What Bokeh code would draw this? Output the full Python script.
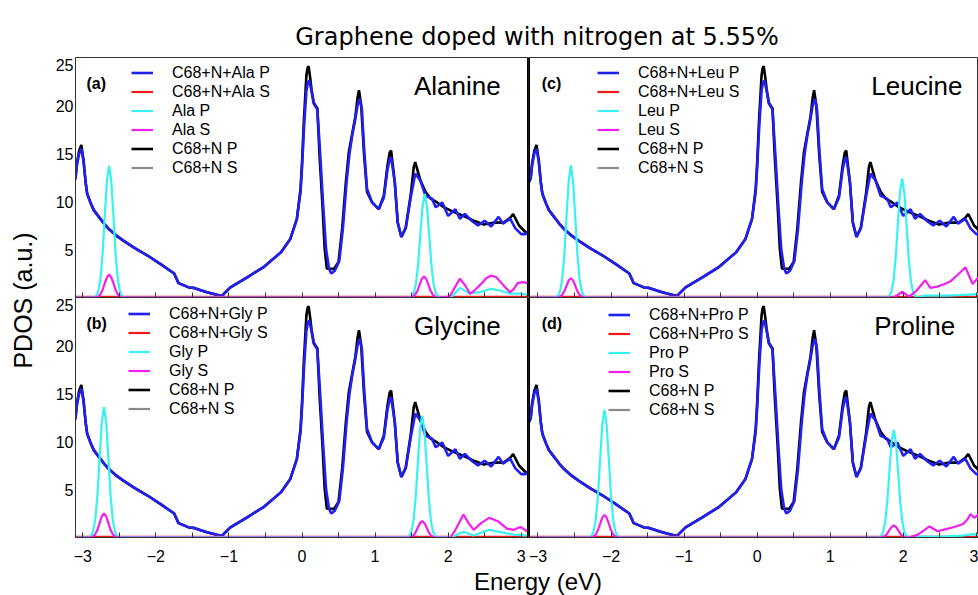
import math
from bokeh.plotting import figure
from bokeh.models import Range1d, FixedTicker, Legend, LegendItem, Span
from bokeh.layouts import column, row
from bokeh.core.properties import value
from bokeh.embed import file_html
from bokeh.resources import INLINE

# ---------------- data ----------------
title_text = "Graphene doped with nitrogen at 5.55%"
x_label = "Energy (eV)"
y_label = "PDOS (a.u.)"

x_ticks = [-3, -2, -1, 0, 1, 2, 3]
x_tick_labels = ["\u22123", "\u22122", "\u22121", "0", "1", "2", "3"]
x_minor_ticks = [-2.5, -1.5, -0.5, 0.5, 1.5, 2.5]
y_tick_pos = [5, 10, 15, 20, 24.2]
y_tick_labels = ["5", "10", "15", "20", "25"]

panel_tags = ["(a)", "(b)", "(c)", "(d)"]
panel_names = ["Alanine", "Glycine", "Leucine", "Proline"]
panel_abbr = ["Ala", "Gly", "Leu", "Pro"]

# C68+N P (black)
c68n_p_x = [-3.13, -3.10, -3.08, -3.05, -3.02, -2.99, -2.96, -2.94, -2.89, -2.85, -2.78, -2.71, -2.64, -2.55,
            -2.44, -2.30, -2.12, -1.94, -1.75, -1.69, -1.55, -1.48, -1.30, -1.10, -0.98, -0.75, -0.52, -0.29,
            -0.16, -0.07, -0.02, 0.00, 0.025, 0.06, 0.075, 0.09, 0.11, 0.13, 0.16, 0.21, 0.24, 0.28, 0.31, 0.34,
            0.44, 0.50, 0.55, 0.60, 0.64, 0.69, 0.73, 0.76, 0.78, 0.81, 0.85, 0.89, 0.96, 1.05, 1.12, 1.17,
            1.20, 1.22, 1.27, 1.31, 1.36, 1.42, 1.49, 1.53, 1.55, 1.62, 1.69, 1.76, 1.85, 1.94, 2.08, 2.21,
            2.35, 2.49, 2.63, 2.76, 2.85, 2.89, 2.97, 3.06, 3.10]
c68n_p_y = [11.9, 12.5, 14.0, 15.3, 15.9, 14.3, 11.9, 10.8, 9.8, 9.1, 8.4, 7.7, 7.1, 6.5,
            5.9, 5.2, 4.4, 3.5, 2.5, 1.5, 1.05, 1.0, 0.55, 0.15, 1.05, 2.1, 3.2, 4.7,
            6.1, 8.2, 11.3, 14.0, 18.3, 23.1, 23.9, 24.1, 23.0, 21.7, 20.3, 19.7, 14.8, 9.6, 5.1, 3.0,
            3.0, 3.7, 7.2, 12.0, 15.1, 17.2, 18.8, 20.8, 21.6, 20.0, 14.8, 11.0, 9.9, 9.2, 10.6, 13.75,
            15.1, 15.3, 12.0, 7.8, 6.3, 7.3, 10.8, 13.6, 14.1, 12.2, 11.0, 10.3, 9.9, 9.4, 8.9, 8.5,
            8.0, 7.6, 7.8, 7.8, 8.3, 8.7, 7.5, 6.8, 6.6]

# C68+N+amino acid P (blue)
c68n_aa_p_x = [-3.13, -3.10, -3.08, -3.05, -3.02, -2.99, -2.96, -2.94, -2.89, -2.85, -2.78, -2.71, -2.64, -2.55,
               -2.44, -2.30, -2.12, -1.94, -1.75, -1.69, -1.55, -1.48, -1.30, -1.10, -0.98, -0.75, -0.52, -0.29,
               -0.16, -0.07, -0.02, 0.00, 0.03, 0.06, 0.08, 0.10, 0.13, 0.16, 0.21, 0.25, 0.29, 0.33, 0.37, 0.40,
               0.45, 0.51, 0.56, 0.61, 0.65, 0.69, 0.73, 0.76, 0.79, 0.82, 0.85, 0.89, 0.96, 1.05, 1.12, 1.17,
               1.20, 1.22, 1.27, 1.31, 1.36, 1.42, 1.49, 1.55, 1.62, 1.69, 1.78, 1.83, 1.92, 2.00, 2.10, 2.16,
               2.23, 2.32, 2.41, 2.50, 2.59, 2.69, 2.75, 2.85, 2.92, 3.00, 3.06, 3.10]
c68n_aa_p_y = [11.9, 12.4, 13.8, 15.0, 15.5, 14.2, 11.9, 10.8, 9.8, 9.1, 8.4, 7.7, 7.1, 6.5,
               5.9, 5.2, 4.4, 3.5, 2.5, 1.5, 1.05, 1.0, 0.55, 0.15, 1.05, 2.1, 3.2, 4.7,
               6.1, 8.2, 11.0, 13.5, 18.0, 21.5, 22.4, 22.6, 21.5, 20.2, 19.6, 14.8, 9.6, 5.0, 3.0, 2.5,
               2.8, 3.8, 7.2, 12.0, 15.0, 17.0, 18.6, 20.0, 20.7, 19.6, 15.5, 11.3, 9.9, 9.2, 10.4, 13.3,
               14.4, 14.6, 12.0, 7.8, 6.3, 7.2, 10.5, 12.9, 12.2, 10.6, 10.3, 9.4, 9.9, 8.5, 9.2, 8.2,
               8.7, 8.0, 7.5, 8.0, 7.4, 8.4, 7.7, 8.2, 7.2, 6.6, 6.6, 7.0]

# S components (near zero)
s_x = [-3.13, 3.10]
c68n_aa_s_y = [0.08, 0.08]
c68n_s_y = [0.05, 0.05]

# Alanine
ala_p_x = [-3.10, -2.85, -2.82, -2.79, -2.76, -2.73, -2.70, -2.67, -2.64, -2.61, -2.58, -2.55, -2.52, -2.49, -2.46, -2.43,
           1.47, 1.50, 1.53, 1.56, 1.59, 1.62, 1.65, 1.68, 1.71, 1.74, 1.77, 1.80, 1.83, 1.86, 1.89,
           2.05, 2.16, 2.30, 2.45, 2.59, 2.72, 2.85, 3.00, 3.10]
ala_p_y = [0.0, 0.0, 0.15, 0.6, 1.85, 4.4, 8.4, 12.1, 13.7, 12.1, 8.4, 4.4, 1.85, 0.6, 0.15, 0.0,
           0.0, 0.12, 0.48, 1.46, 3.5, 6.6, 9.5, 10.8, 9.5, 6.6, 3.5, 1.46, 0.48, 0.12, 0.0,
           0.1, 1.0, 0.4, 0.6, 0.9, 0.7, 0.4, 0.4, 0.3]
ala_s_x = [-3.10, -2.85, -2.82, -2.79, -2.76, -2.73, -2.70, -2.67, -2.64, -2.61, -2.58, -2.55, -2.52, -2.49, -2.46, -2.43,
           1.46, 1.49, 1.52, 1.55, 1.58, 1.61, 1.64, 1.67, 1.70, 1.73, 1.76, 1.79, 1.82, 1.85, 1.88,
           2.02, 2.08, 2.16, 2.23, 2.30, 2.37, 2.45, 2.52, 2.59, 2.66, 2.72, 2.79, 2.85, 2.90, 2.95, 3.02, 3.10]
ala_s_y = [0.0, 0.0, 0.03, 0.11, 0.32, 0.77, 1.46, 2.1, 2.4, 2.1, 1.46, 0.77, 0.32, 0.11, 0.03, 0.0,
           0.0, 0.02, 0.1, 0.3, 0.7, 1.34, 1.94, 2.2, 1.94, 1.34, 0.7, 0.3, 0.1, 0.02, 0.0,
           0.1, 0.9, 1.95, 1.3, 0.4, 0.8, 1.4, 2.0, 2.3, 2.1, 1.6, 1.0, 0.55, 0.9, 1.5, 1.6, 1.5]

# Glycine
gly_p_x = [-3.10, -2.92, -2.89, -2.86, -2.83, -2.80, -2.77, -2.74, -2.71, -2.68, -2.65, -2.62, -2.59, -2.56, -2.53, -2.50,
           1.435, 1.465, 1.495, 1.525, 1.555, 1.585, 1.615, 1.645, 1.675, 1.705, 1.735, 1.765, 1.795, 1.825, 1.855,
           2.05, 2.21, 2.35, 2.56, 2.75, 2.90, 3.10]
gly_p_y = [0.0, 0.03, 0.15, 0.6, 1.84, 4.35, 8.3, 12.0, 13.6, 12.0, 8.3, 4.35, 1.84, 0.6, 0.15, 0.03,
           0.03, 0.14, 0.56, 1.7, 4.1, 7.7, 11.2, 12.7, 11.2, 7.7, 4.1, 1.7, 0.56, 0.14, 0.03,
           0.05, 0.6, 0.2, 0.8, 0.5, 0.3, 0.2]
gly_s_x = [-3.10, -2.92, -2.89, -2.86, -2.83, -2.80, -2.77, -2.74, -2.71, -2.68, -2.65, -2.62, -2.59, -2.56, -2.53, -2.50,
           1.435, 1.465, 1.495, 1.525, 1.555, 1.585, 1.615, 1.645, 1.675, 1.705, 1.735, 1.765, 1.795, 1.825, 1.855,
           2.03, 2.10, 2.21, 2.28, 2.35, 2.45, 2.56, 2.68, 2.81, 2.90, 2.99, 3.07, 3.10]
gly_s_y = [0.0, 0.0, 0.03, 0.11, 0.34, 0.8, 1.5, 2.2, 2.5, 2.2, 1.5, 0.8, 0.34, 0.11, 0.03, 0.0,
           0.0, 0.02, 0.07, 0.23, 0.54, 1.04, 1.5, 1.7, 1.5, 1.04, 0.54, 0.23, 0.07, 0.02, 0.0,
           0.0, 0.8, 2.4, 1.5, 0.8, 1.5, 2.05, 1.7, 0.9, 0.8, 1.1, 0.7, 0.7]

# Leucine
leu_p_x = [-3.13, -2.76, -2.73, -2.70, -2.67, -2.64, -2.61, -2.58, -2.55, -2.52, -2.49, -2.46, -2.43, -2.40, -2.37, -2.34,
           1.775, 1.805, 1.835, 1.865, 1.895, 1.925, 1.955, 1.985, 2.015, 2.045, 2.075, 2.105, 2.135, 2.165, 2.195,
           2.30, 2.60, 2.90, 3.03]
leu_p_y = [0.0, 0.03, 0.15, 0.6, 1.86, 4.4, 8.4, 12.1, 13.75, 12.1, 8.4, 4.4, 1.86, 0.6, 0.15, 0.03,
           0.02, 0.14, 0.55, 1.67, 4.0, 7.6, 10.9, 12.4, 10.9, 7.6, 4.0, 1.67, 0.55, 0.14, 0.02,
           0.2, 0.2, 0.3, 0.35]
leu_s_x = [-3.13, -2.76, -2.73, -2.70, -2.67, -2.64, -2.61, -2.58, -2.55, -2.52, -2.49, -2.46, -2.43, -2.40, -2.37, -2.34,
           1.86, 1.92, 1.985, 2.05, 2.08, 2.18, 2.30, 2.37, 2.45, 2.55, 2.65, 2.75, 2.85, 2.95, 3.03]
leu_s_y = [0.0, 0.0, 0.02, 0.09, 0.27, 0.64, 1.22, 1.76, 2.0, 1.76, 1.22, 0.64, 0.27, 0.09, 0.02, 0.0,
           0.0, 0.25, 0.6, 0.25, 0.1, 0.7, 1.8, 1.0, 1.1, 1.35, 1.7, 2.4, 3.15, 1.4, 2.1]

# Proline
pro_p_x = [-3.13, -2.30, -2.27, -2.24, -2.21, -2.18, -2.15, -2.12, -2.09, -2.06, -2.03, -2.00, -1.97, -1.94, -1.91, -1.88,
           1.66, 1.69, 1.72, 1.75, 1.78, 1.81, 1.84, 1.87, 1.90, 1.93, 1.96, 1.99, 2.02, 2.05, 2.08,
           2.20, 2.50, 2.80, 2.95, 3.03]
pro_p_y = [0.0, 0.03, 0.15, 0.59, 1.8, 4.26, 8.1, 11.7, 13.3, 11.7, 8.1, 4.26, 1.8, 0.59, 0.15, 0.03,
           0.02, 0.12, 0.49, 1.5, 3.6, 6.8, 9.9, 11.2, 9.9, 6.8, 3.6, 1.5, 0.49, 0.12, 0.02,
           0.1, 0.1, 0.2, 0.35, 0.3]
pro_s_x = [-3.13, -2.30, -2.27, -2.24, -2.21, -2.18, -2.15, -2.12, -2.09, -2.06, -2.03, -2.00, -1.97, -1.94, -1.91, -1.88,
           1.66, 1.69, 1.72, 1.75, 1.78, 1.81, 1.84, 1.87, 1.90, 1.93, 1.96, 1.99, 2.02, 2.05, 2.08,
           2.20, 2.36, 2.47, 2.60, 2.72, 2.82, 2.88, 2.92, 2.97, 3.03]
pro_s_y = [0.0, 0.0, 0.03, 0.1, 0.32, 0.75, 1.43, 2.07, 2.35, 2.07, 1.43, 0.75, 0.32, 0.1, 0.03, 0.0,
           0.0, 0.01, 0.06, 0.17, 0.4, 0.76, 1.1, 1.25, 1.1, 0.76, 0.4, 0.17, 0.06, 0.01, 0.0,
           0.3, 1.15, 0.65, 0.9, 1.15, 1.4, 1.9, 2.45, 2.05, 2.4]

aa_p_data = [(ala_p_x, ala_p_y), (gly_p_x, gly_p_y), (leu_p_x, leu_p_y), (pro_p_x, pro_p_y)]
aa_s_data = [(ala_s_x, ala_s_y), (gly_s_x, gly_s_y), (leu_s_x, leu_s_y), (pro_s_x, pro_s_y)]

# ---------------- styling ----------------
FONT = "Liberation Sans"
C_BLUE = "#2020f5"
C_RED = "#f01818"
C_CYAN = "#38f2f2"
C_MAG = "#f020f0"
C_BLACK = "#000000"
C_GRAY = "#8a8a8a"
FRAME = "#333333"

YLAB_W = 48
LEFT_W, RIGHT_W = 480, 450
LEFT_BORDER = 27
TITLE_H = 55
TOP_H, BOT_H = 242, 270
XLAB_H = 28


def text_fig(w, h):
    f = figure(width=w, height=h, x_range=Range1d(0, w), y_range=Range1d(0, h),
               output_backend="svg", toolbar_location=None, min_border=0)
    f.axis.visible = False
    f.grid.visible = False
    f.outline_line_color = None
    return f


def make_panel(i, col, bottom, legend_loc, name_x):
    if col == 0:
        xr = Range1d(-3.1, 3.1)
        w = LEFT_W
    else:
        xr = Range1d(-3.13, 3.03)
        w = RIGHT_W
    h = BOT_H if bottom else TOP_H
    p = figure(width=w, height=h, x_range=xr, y_range=Range1d(0, 25),
               output_backend="svg", toolbar_location=None,
               min_border_left=LEFT_BORDER if col == 0 else 0, min_border_right=0,
               min_border_top=0 if bottom else 2, min_border_bottom=30 if bottom else 0)
    p.grid.visible = False
    p.outline_line_color = FRAME
    p.outline_line_width = 1
    p.background_fill_color = "white"
    p.border_fill_color = "white"

    # curves
    r_black = p.line(c68n_p_x, c68n_p_y, line_color=C_BLACK, line_width=2.6)
    r_blue = p.line(c68n_aa_p_x, c68n_aa_p_y, line_color=C_BLUE, line_width=2.6)
    r_gray = p.line(s_x, c68n_s_y, line_color=C_GRAY, line_width=2.2)
    r_red = p.line(s_x, c68n_aa_s_y, line_color=C_RED, line_width=2.2)
    px, py = aa_p_data[i]
    sx, sy = aa_s_data[i]
    r_cyan = p.line(px, py, line_color=C_CYAN, line_width=2.2)
    r_mag = p.line(sx, sy, line_color=C_MAG, line_width=2.2)

    ab = panel_abbr[i]
    items = [
        LegendItem(label="C68+N+%s P" % ab, renderers=[r_blue]),
        LegendItem(label="C68+N+%s S" % ab, renderers=[r_red]),
        LegendItem(label="%s P" % ab, renderers=[r_cyan]),
        LegendItem(label="%s S" % ab, renderers=[r_mag]),
        LegendItem(label="C68+N P", renderers=[r_black]),
        LegendItem(label="C68+N S", renderers=[r_gray]),
    ]
    leg = Legend(items=items, location=legend_loc, glyph_width=22, glyph_height=19,
                 label_height=19, label_standoff=19, spacing=0, padding=0, margin=0,
                 border_line_alpha=0, background_fill_alpha=0,
                 label_text_font=FONT, label_text_font_size="16px", label_text_color="black")
    p.add_layout(leg)

    # panel tag and name
    p.text(x=[-2.95], y=[22.3], text=[panel_tags[i]], text_font=value(FONT), text_font_style="bold",
           text_font_size="16px", text_align="left", text_baseline="alphabetic", text_color="black")
    p.text(x=[name_x], y=[22.0], text=[panel_names[i]], text_font=value(FONT),
           text_font_size="26px", text_align="right", text_baseline="alphabetic", text_color="black")

    # x axis
    xa = p.xaxis[0]
    xa.ticker = FixedTicker(ticks=x_ticks, minor_ticks=x_minor_ticks)
    xa.major_tick_in = 5
    xa.major_tick_out = 0
    xa.minor_tick_in = 5
    xa.minor_tick_out = 0
    xa.axis_line_color = FRAME
    xa.major_tick_line_color = FRAME
    xa.minor_tick_line_color = FRAME
    xa.major_label_text_font = FONT
    xa.major_label_text_font_size = "16px"
    xa.major_label_text_color = "black"
    xa.major_label_standoff = 12
    if bottom:
        xa.major_label_overrides = dict(zip(x_ticks, x_tick_labels))
    else:
        xa.major_label_overrides = {t: "" for t in x_ticks}
        xa.fixed_location = 0

    # y axis
    ya = p.yaxis[0]
    if col == 0:
        ya.ticker = FixedTicker(ticks=y_tick_pos)
        ya.major_label_overrides = dict(zip(y_tick_pos, y_tick_labels))
        ya.major_tick_in = 0
        ya.major_tick_out = 0
        ya.minor_tick_line_color = None
        ya.major_tick_line_color = None
        ya.axis_line_color = FRAME
        ya.major_label_text_font = FONT
        ya.major_label_text_font_size = "16px"
        ya.major_label_text_color = "black"
        ya.major_label_standoff = 2
        p.add_layout(Span(location=3.1, dimension="height", line_color="black", line_width=3))
    else:
        ya.visible = False
        p.add_layout(Span(location=-3.13, dimension="height", line_color="black", line_width=3))
    return p


tl = make_panel(0, 0, False, (56, 120), 2.72)
bl = make_panel(1, 0, True, (53, 119), 2.72)
tr = make_panel(2, 1, False, (69, 120), 2.81)
br = make_panel(3, 1, True, (80, 118), 2.71)

TOTAL_W = YLAB_W + LEFT_W + RIGHT_W

title_fig = text_fig(TOTAL_W, TITLE_H)
title_fig.text(x=[536.5], y=[18.5], text=[title_text], text_font=value("DejaVu Sans"),
               text_font_size="24px", text_align="center", text_baseline="alphabetic", text_color="black")

ylab_fig = text_fig(YLAB_W, TOP_H + BOT_H)
ylab_fig.text(x=[22], y=[267], text=[y_label], angle=math.pi / 2, text_font=value(FONT),
              text_font_size="25px", text_align="center", text_baseline="middle", text_color="black")

xlab_fig = text_fig(TOTAL_W, XLAB_H)
xlab_fig.text(x=[537.5], y=[14], text=[x_label], text_font=value(FONT),
              text_font_size="24px", text_align="center", text_baseline="middle", text_color="black")

grid = column(row(tl, tr), row(bl, br))
layout = column(title_fig, row(ylab_fig, grid), xlab_fig)

open("out.html", "w").write(file_html(layout, INLINE))
